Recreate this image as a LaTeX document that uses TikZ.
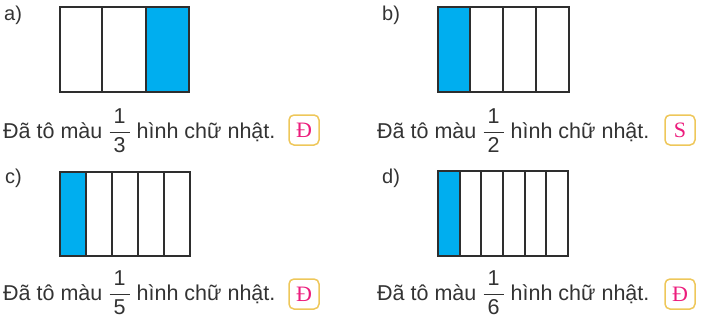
\documentclass[tikz,border=0pt]{standalone}
\usepackage{amsmath}
\usepackage{fontspec}
\setmainfont{Liberation Sans}
\newfontfamily\markfont{Liberation Serif}
\usetikzlibrary{positioning}
\definecolor{shade}{HTML}{00AEEF}
\definecolor{ink}{HTML}{333333}
\definecolor{gold}{HTML}{EEC75A}
\definecolor{pink}{HTML}{EC1C7C}
\newcommand{\onepart}[1]{$\dfrac{\hspace{4pt}\text{1}\hspace{4pt}}{\text{#1}}$}
\tikzstyle{part} = [draw=ink!90!black, line width=1.6pt]
\tikzstyle{blue} = [fill=shade]
\tikzstyle{tag} = [anchor=west, text=ink, font=\fontsize{20}{22}\selectfont, inner sep=0pt]
\tikzstyle{sentence} = [anchor=base west, text=ink, font=\fontsize{21.5}{24}\selectfont, inner sep=0pt]
\tikzstyle{answer} = [draw=gold, line width=1.5pt, rounded corners=5pt, minimum size=30pt, inner sep=0pt, text=pink, font=\markfont\fontsize{22}{24}\selectfont]

\begin{document}
\begin{tikzpicture}[x=1pt, y=-1pt]
        \useasboundingbox (0,0) rectangle (708,329);
        % a) one third
        \node[tag] (labA) at (4,15) {a)};
        \fill[blue] (146,7) rectangle (189,92);
        \draw[part] (60,7) rectangle (189,92) (102,7) -- (102,92) (146,7) -- (146,92);
        \node[sentence] (textA) at (3,138) {Đã tô màu \onepart{3} hình chữ nhật.};
        \node[answer] (markA) at (304,130) {Đ};
        % b) one half
        \node[tag] (labB) at (382,15) {b)};
        \fill[blue] (438,7) rectangle (470,92);
        \draw[part] (438,7) rectangle (569,92);
        \foreach \x in {470,503,536} \draw[part] (\x,7) -- (\x,92);
        \node[sentence] (textB) at (377,138) {Đã tô màu \onepart{2} hình chữ nhật.};
        \node[answer] (markB) at (680,130) {S};
        % c) one fifth
        \node[tag] (labC) at (5,178) {c)};
        \fill[blue] (60,172) rectangle (86,256);
        \draw[part] (60,172) rectangle (190,256);
        \foreach \x in {86,112,138,164} \draw[part] (\x,172) -- (\x,256);
        \node[sentence] (textC) at (3,300) {Đã tô màu \onepart{5} hình chữ nhật.};
        \node[answer] (markC) at (304,294) {Đ};
        % d) one sixth
        \node[tag] (labD) at (382,178) {d)};
        \fill[blue] (438,171) rectangle (460,256);
        \draw[part] (438,171) rectangle (568,256);
        \foreach \x in {460,481,503,525,546} \draw[part] (\x,171) -- (\x,256);
        \node[sentence] (textD) at (377,300) {Đã tô màu \onepart{6} hình chữ nhật.};
        \node[answer] (markD) at (680,294) {Đ};
    \end{tikzpicture}
\end{document}
